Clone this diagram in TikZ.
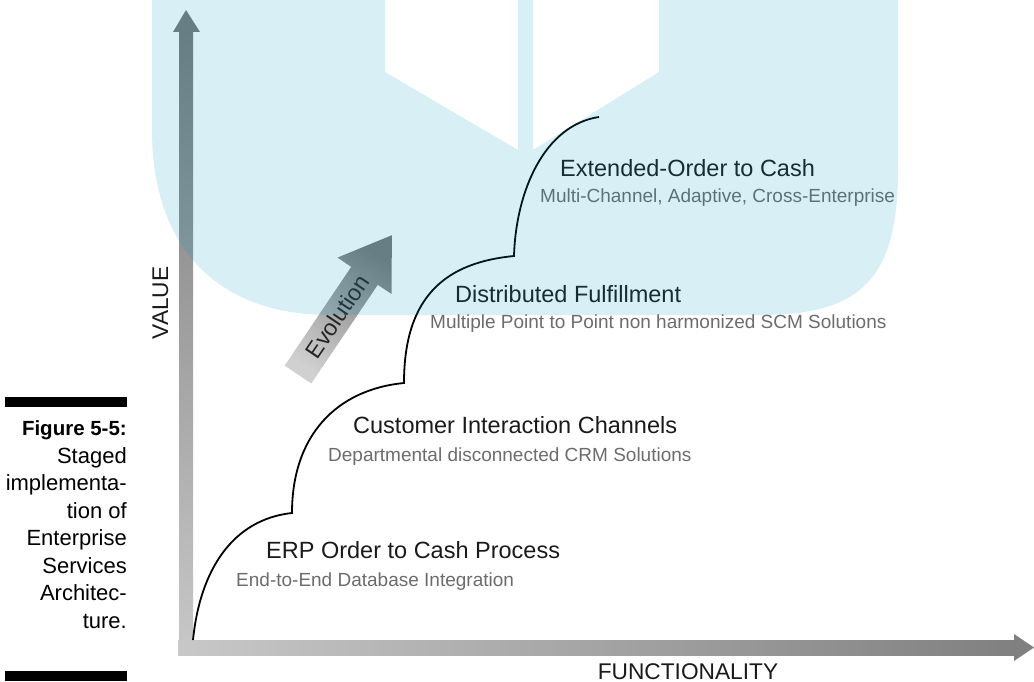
\documentclass[tikz,border=0pt]{standalone}
\usepackage{fontspec}
\setmainfont{Liberation Sans}
\definecolor{wm}{RGB}{0,151,190}
\definecolor{subgray}{RGB}{108,108,108}
\definecolor{headblack}{RGB}{26,26,26}
\definecolor{axtop}{RGB}{122,122,122}
\definecolor{axmid}{RGB}{172,172,172}
\definecolor{axbot}{RGB}{200,200,200}
\definecolor{axright}{RGB}{128,128,128}
\definecolor{evlight}{RGB}{208,208,208}
\definecolor{evdark}{RGB}{122,122,122}
\tikzset{
  heading/.style={anchor=base west, inner sep=0pt, text=headblack, font=\fontsize{23.5}{28}\selectfont},
  subline/.style={anchor=base west, inner sep=0pt, text=subgray, font=\fontsize{19}{23}\selectfont},
  capline/.style={anchor=base east, inner sep=0pt, text=black, font=\fontsize{22}{28}\selectfont},
  capbold/.style={anchor=base east, inner sep=0pt, text=black, font=\fontsize{20.5}{28}\selectfont\bfseries},
  axislabel/.style={inner sep=0pt, text=headblack, font=\fontsize{22.7}{27}\selectfont},
  stepcurve/.style={line width=1.8pt, black},
  capbar/.style={fill=black},
}
\begin{document}
\begin{tikzpicture}[x=1pt,y=-1pt]
\useasboundingbox (0,0) rectangle (1034,682);

% caption bars
\fill[capbar] (5,397) rectangle (127,407);
\fill[capbar] (5,671) rectangle (127,681);

% caption text
\node[capbold] (c0) at (127,435) {Figure 5-5:};
\node[capline] (c1) at (127,463) {Staged};
\node[capline] (c2) at (127,490.5) {implementa-};
\node[capline] (c3) at (127,518) {tion of};
\node[capline] (c4) at (127,545.5) {Enterprise};
\node[capline] (c5) at (127,573) {Services};
\node[capline] (c6) at (127,600.5) {Architec-};
\node[capline] (c7) at (127,628) {ture.};

% vertical axis
\shade[top color=axtop, middle color=axmid, bottom color=axbot] (179,32) rectangle (193,655);
\fill[axtop] (173,32) -- (186,10) -- (200,32) -- cycle;
% horizontal axis
\shade[left color=axbot, right color=axright] (178,640) rectangle (1015,655);
\fill[axright] (1014,634) -- (1034,647.5) -- (1014,661) -- cycle;

% axis labels
\node[axislabel, rotate=90] (val) at (160.5,303) {VALUE};
\node[axislabel, anchor=base] (fun) at (688,679) {FUNCTIONALITY};

% evolution arrow
\shade[bottom color=evlight, top color=evdark, shading angle=-34]
  (284.7,365.6) -- (351.2,266.9) -- (337.5,257.6) -- (391.9,235.2)
  -- (391.5,294.0) -- (377.8,284.8) -- (311.3,383.5) -- cycle;
\node[inner sep=0pt, rotate=56, text=black!85, font=\fontsize{23}{27}\selectfont] (evo) at (337.1,316.5) {Evolution};

% stepped curve
\coordinate (s0) at (193,640);
\coordinate (s1) at (292,513);
\coordinate (s2) at (404,383);
\coordinate (s3) at (514,256);
\coordinate (s4) at (599,117);
\draw[stepcurve] (s0) .. controls (200,570) and (232.6,519.4) .. (s1)
  .. controls (292,435) and (337,389.5) .. (s2)
  .. controls (404,294) and (448,262.4) .. (s3)
  .. controls (516,190) and (545,125) .. (s4);

% stage labels
\node[heading] (h1) at (266,558) {ERP Order to Cash Process};
\node[subline] (t1) at (236,586) {End-to-End Database Integration};
\node[heading] (h2) at (353,433) {Customer Interaction Channels};
\node[subline] (t2) at (328,461) {Departmental disconnected CRM Solutions};
\node[heading] (h3) at (455,302) {Distributed Fulfillment};
\node[subline] (t3) at (430,328) {Multiple Point to Point non harmonized SCM Solutions};
\node[heading] (h4) at (560,176) {Extended-Order to Cash};
\node[subline] (t4) at (540,202) {Multi-Channel, Adaptive, Cross-Enterprise};

% watermark overlay
\fill[wm, fill opacity=0.153, even odd rule]
  (152,0) -- (152,130) .. controls (152,245) and (215,315) .. (330,315)
  -- (760,315) .. controls (860,315) and (898,280) .. (898,170) -- (898,0) -- cycle
  (385,0) -- (518,0) -- (518,150) -- (385,72) -- cycle
  (533,0) -- (659,0) -- (659,72) -- (533,150) -- cycle;
\end{tikzpicture}
\end{document}
